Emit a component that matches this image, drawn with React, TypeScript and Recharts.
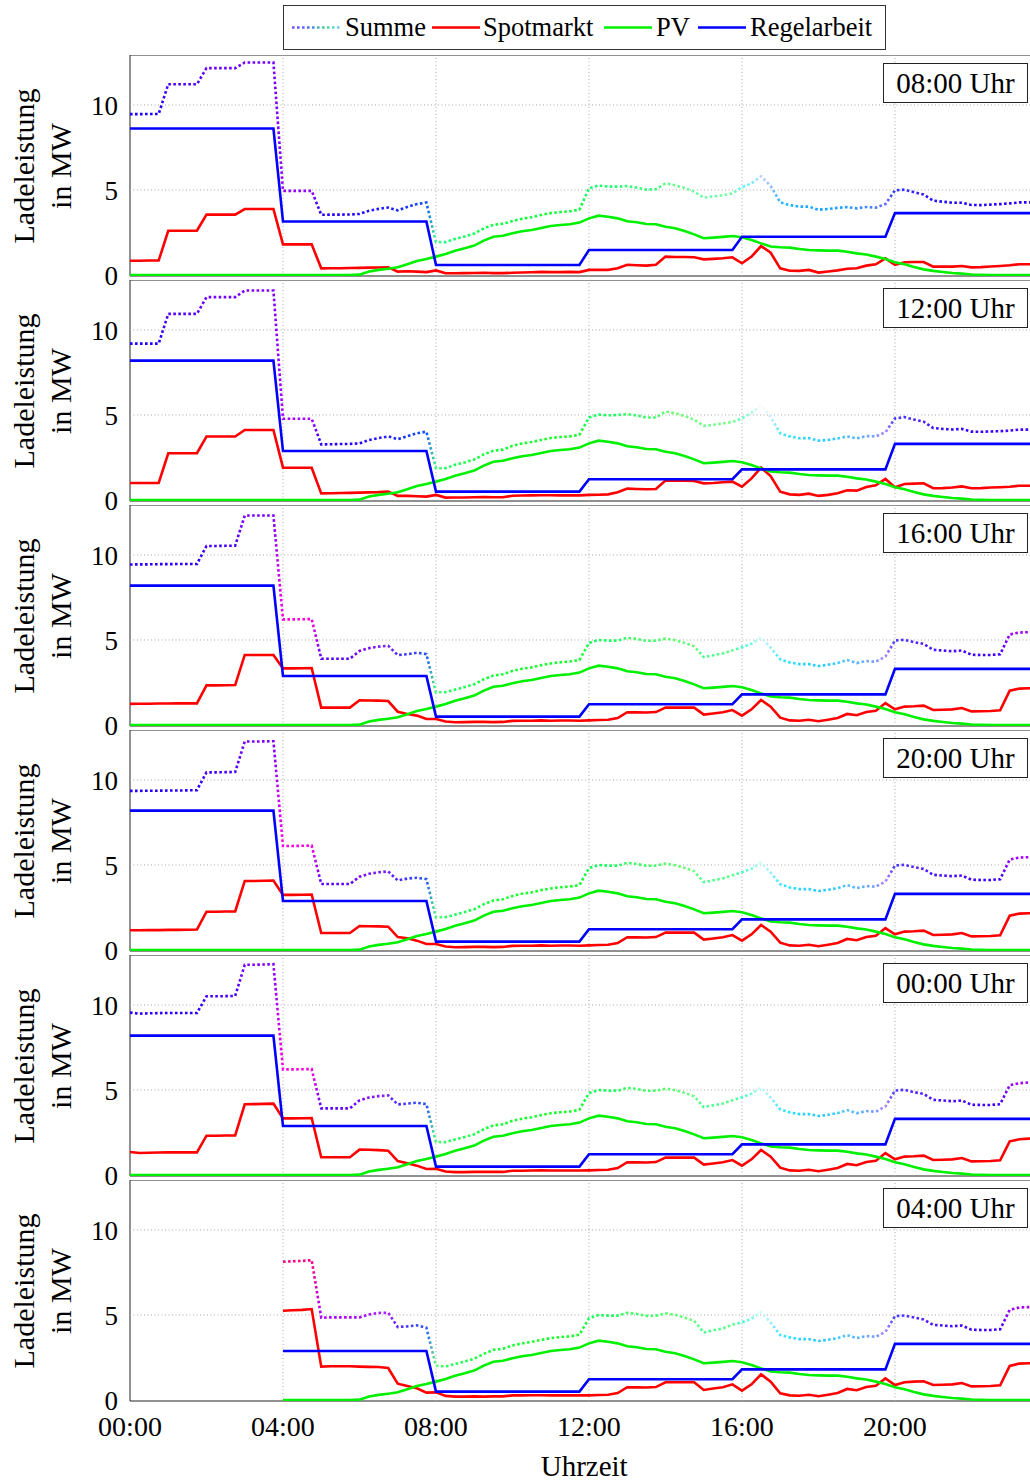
import React from 'react';
import { LineChart, Line, XAxis, YAxis, ReferenceLine, ReferenceArea, Label } from 'recharts';

const FONT = '"Liberation Serif", "Times New Roman", serif';

// Viertelstundenraster über den Tag (Stunden)
const quarterHours: number[] = Array.from({ length: 96 }, (_, i) => i / 4);

const xTicks = [0, 4, 8, 12, 16, 20];
const yTicks = [0, 5, 10];

const panelTitles = ['08:00 Uhr', '12:00 Uhr', '16:00 Uhr', '20:00 Uhr', '00:00 Uhr', '04:00 Uhr'];

// PV-Leistung in MW (für alle Zeitpunkte gleich)
const pv = [
  0, 0, 0, 0, 0, 0, 0, 0,
  0, 0, 0, 0, 0, 0, 0, 0,
  0, 0, 0, 0, 0, 0, 0, 0,
  0.02, 0.2, 0.3, 0.37, 0.45, 0.63, 0.82, 0.94,
  1.08, 1.24, 1.43, 1.57, 1.73, 2.02, 2.25, 2.31,
  2.45, 2.57, 2.65, 2.76, 2.88, 2.94, 2.98, 3.08,
  3.33, 3.49, 3.43, 3.33, 3.16, 3.1, 3.0, 2.98,
  2.84, 2.75, 2.59, 2.39, 2.16, 2.2, 2.24, 2.29,
  2.22, 2.06, 1.86, 1.67, 1.63, 1.61, 1.53, 1.47,
  1.45, 1.43, 1.43, 1.37, 1.27, 1.2, 1.08, 0.94,
  0.75, 0.63, 0.47, 0.33, 0.24, 0.18, 0.12, 0.08,
  0.03, 0.01, 0, 0, 0, 0, 0, 0,
];

// Spotmarkt-Leistung je Planungszeitpunkt (MW)
const spot0800 = [
  0.84, 0.84, 0.85, 0.85, 2.6, 2.6, 2.6, 2.6,
  3.55, 3.55, 3.55, 3.55, 3.88, 3.88, 3.88, 3.88,
  1.8, 1.8, 1.8, 1.8, 0.39, 0.4, 0.4, 0.41,
  0.42, 0.43, 0.44, 0.45, 0.2, 0.22, 0.2, 0.17,
  0.27, 0.1, 0.1, 0.11, 0.12, 0.13, 0.11, 0.11,
  0.13, 0.15, 0.16, 0.18, 0.17, 0.17, 0.18, 0.17,
  0.3, 0.3, 0.3, 0.4, 0.6, 0.57, 0.55, 0.6,
  1.08, 1.06, 1.06, 1.04, 0.92, 0.95, 0.98, 1.04,
  0.69, 1.08, 1.7, 1.31, 0.39, 0.25, 0.24, 0.3,
  0.14, 0.2, 0.27, 0.37, 0.4, 0.55, 0.63, 0.98,
  0.59, 0.75, 0.76, 0.76, 0.49, 0.49, 0.49, 0.53,
  0.45, 0.46, 0.5, 0.53, 0.57, 0.63, 0.63, 0.66,
];

const spot1200 = [
  1.0, 1.0, 1.0, 1.0, 2.75, 2.75, 2.75, 2.75,
  3.73, 3.73, 3.73, 3.73, 4.12, 4.12, 4.12, 4.12,
  1.9, 1.9, 1.9, 1.9, 0.39, 0.4, 0.41, 0.42,
  0.43, 0.45, 0.46, 0.49, 0.24, 0.24, 0.22, 0.2,
  0.3, 0.14, 0.15, 0.15, 0.16, 0.17, 0.16, 0.16,
  0.25, 0.26, 0.27, 0.28, 0.28, 0.27, 0.27, 0.27,
  0.3, 0.31, 0.33, 0.45, 0.67, 0.65, 0.63, 0.65,
  1.14, 1.13, 1.13, 1.12, 0.98, 1.0, 1.04, 1.08,
  0.78, 1.27, 1.9, 1.41, 0.49, 0.33, 0.3, 0.37,
  0.24, 0.3, 0.39, 0.57, 0.55, 0.76, 0.86, 1.24,
  0.75, 0.94, 0.96, 0.98, 0.69, 0.7, 0.73, 0.8,
  0.69, 0.7, 0.73, 0.75, 0.78, 0.84, 0.84, 0.85,
];

const spot1600 = [
  1.24, 1.25, 1.25, 1.26, 1.26, 1.27, 1.27, 1.27,
  2.33, 2.33, 2.34, 2.35, 4.12, 4.12, 4.12, 4.12,
  3.33, 3.33, 3.34, 3.35, 1.02, 1.02, 1.02, 1.02,
  1.45, 1.44, 1.43, 1.41, 0.78, 0.65, 0.55, 0.35,
  0.35, 0.2, 0.16, 0.17, 0.18, 0.18, 0.17, 0.18,
  0.24, 0.25, 0.25, 0.27, 0.25, 0.26, 0.26, 0.25,
  0.27, 0.29, 0.31, 0.41, 0.75, 0.74, 0.73, 0.76,
  1.02, 1.02, 1.02, 1.02, 0.61, 0.68, 0.75, 0.88,
  0.55, 0.92, 1.47, 1.08, 0.43, 0.27, 0.25, 0.31,
  0.22, 0.31, 0.41, 0.65, 0.57, 0.76, 0.84, 1.29,
  0.92, 1.08, 1.1, 1.14, 0.88, 0.9, 0.92, 1.0,
  0.8, 0.81, 0.82, 0.86, 2.02, 2.14, 2.16, 2.17,
];

const spot2000 = [
  1.16, 1.16, 1.17, 1.17, 1.18, 1.18, 1.19, 1.2,
  2.25, 2.25, 2.26, 2.27, 4.06, 4.06, 4.07, 4.08,
  3.24, 3.24, 3.25, 3.26, 1.0, 1.0, 1.0, 1.0,
  1.41, 1.4, 1.39, 1.37, 0.76, 0.69, 0.55, 0.35,
  0.35, 0.2, 0.16, 0.17, 0.18, 0.18, 0.17, 0.18,
  0.24, 0.25, 0.25, 0.27, 0.25, 0.26, 0.26, 0.25,
  0.27, 0.29, 0.31, 0.41, 0.75, 0.74, 0.73, 0.76,
  1.02, 1.02, 1.02, 1.02, 0.61, 0.68, 0.75, 0.88,
  0.55, 0.92, 1.47, 1.08, 0.43, 0.27, 0.25, 0.31,
  0.22, 0.31, 0.41, 0.65, 0.57, 0.76, 0.84, 1.29,
  0.92, 1.08, 1.1, 1.14, 0.88, 0.9, 0.92, 1.0,
  0.8, 0.81, 0.82, 0.86, 2.02, 2.14, 2.16, 2.17,
];

const spot0000 = [
  1.35, 1.29, 1.31, 1.32, 1.33, 1.33, 1.33, 1.33,
  2.31, 2.31, 2.32, 2.33, 4.16, 4.17, 4.18, 4.2,
  3.33, 3.33, 3.34, 3.35, 1.04, 1.04, 1.04, 1.04,
  1.49, 1.48, 1.46, 1.43, 0.82, 0.69, 0.55, 0.35,
  0.37, 0.2, 0.17, 0.17, 0.18, 0.18, 0.18, 0.18,
  0.25, 0.25, 0.26, 0.27, 0.26, 0.26, 0.26, 0.26,
  0.27, 0.29, 0.31, 0.41, 0.75, 0.74, 0.73, 0.76,
  1.02, 1.02, 1.02, 1.02, 0.61, 0.68, 0.75, 0.88,
  0.55, 0.92, 1.47, 1.08, 0.43, 0.27, 0.25, 0.31,
  0.22, 0.31, 0.41, 0.65, 0.57, 0.76, 0.84, 1.29,
  0.92, 1.08, 1.1, 1.14, 0.88, 0.9, 0.92, 1.0,
  0.8, 0.81, 0.82, 0.86, 1.98, 2.1, 2.14, 2.16,
];

const spot0400 = [
  null, null, null, null, null, null, null, null,
  null, null, null, null, null, null, null, null,
  5.25, 5.28, 5.3, 5.35, 1.96, 1.98, 1.98, 1.98,
  1.96, 1.95, 1.94, 1.88, 0.96, 0.82, 0.69, 0.43,
  0.45, 0.24, 0.2, 0.2, 0.21, 0.2, 0.21, 0.21,
  0.27, 0.27, 0.28, 0.28, 0.27, 0.27, 0.27, 0.27,
  0.27, 0.29, 0.31, 0.41, 0.75, 0.74, 0.73, 0.76,
  1.04, 1.04, 1.04, 1.04, 0.59, 0.68, 0.75, 0.92,
  0.55, 0.92, 1.51, 1.08, 0.39, 0.27, 0.25, 0.31,
  0.22, 0.31, 0.41, 0.65, 0.57, 0.76, 0.84, 1.27,
  0.88, 1.04, 1.08, 1.1, 0.88, 0.9, 0.92, 1.0,
  0.8, 0.81, 0.82, 0.86, 2.0, 2.14, 2.16, 2.17,
];

// Regelarbeit in 4-Stunden-Blöcken (00-04, 04-08, ..., 20-24 Uhr)
const regel0800 = [8.62, 3.15, 0.59, 1.47, 2.25, 3.64];
const regel1200 = [8.2, 2.88, 0.49, 1.22, 1.8, 3.3];
const regel1600 = [8.2, 2.88, 0.49, 1.22, 1.8, 3.3];
const regel2000 = [8.2, 2.88, 0.49, 1.22, 1.8, 3.3];
const regel0000 = [8.2, 2.88, 0.49, 1.22, 1.8, 3.3];
const regel0400 = [null, 2.88, 0.49, 1.22, 1.8, 3.3];

const spotSeries = [spot0800, spot1200, spot1600, spot2000, spot0000, spot0400];
const regelSeries = [regel0800, regel1200, regel1600, regel2000, regel0000, regel0400];

type Row = { t: number; spot: number | null; pv: number | null; regel: number | null; summe: number | null };

function buildRows(spot: (number | null)[], regel: (number | null)[]): Row[] {
  return quarterHours.map((t, i) => {
    const s = spot[i];
    const q = regel[Math.floor(i / 16)];
    if (s == null || q == null) return { t, spot: null, pv: null, regel: null, summe: null };
    const p = pv[i];
    return { t, spot: s, pv: p, regel: q, summe: s + p + q };
  });
}

// Farbe der Summe aus den Anteilen: rot = Spotmarkt, grün = PV, blau = Regelarbeit
function mixColor(s: number, p: number, q: number) {
  const m = Math.max(s, p, q) || 1;
  const c = (v: number) => Math.round((255 * v) / m);
  return `rgb(${c(s)},${c(p)},${c(q)})`;
}

const fmtHour = (h: number) => `${String(h).padStart(2, '0')}:00`;

const PLOT_H = 221;
const SPILL = 16; // Platz unter der Achse für die Null-Beschriftung
const Y_DOMAIN: [number, number] = [-0.06, 12.94];
const X_DOMAIN: [number, number] = [0, 23.75];

function Panel({ k }: { k: number }) {
  const rows = buildRows(spotSeries[k], regelSeries[k]);
  const first = rows.findIndex(r => r.summe != null);
  const last = rows.length - 1;
  const isLast = k === 5;
  const top = 55 + 225 * k;
  const gradId = `summe-grad-${k}`;

  return (
    <div style={{ position: 'absolute', left: 0, top }}>
      <LineChart
        width={1040}
        height={isLast ? PLOT_H + 80 : PLOT_H + SPILL}
        data={rows}
        margin={{ top: 0, right: 1.6, bottom: isLast ? 0 : SPILL, left: 0 }}
      >
        <defs>
          <linearGradient id={gradId} x1="0" y1="0" x2="1" y2="0">
            {rows.slice(first).map((r, j) => (
              <stop
                key={j}
                offset={j / (last - first)}
                stopColor={mixColor(r.spot as number, r.pv as number, r.regel as number)}
              />
            ))}
          </linearGradient>
        </defs>
        {isLast ? (
          <XAxis
            dataKey="t"
            type="number"
            domain={X_DOMAIN}
            ticks={xTicks}
            interval={0}
            tickFormatter={fmtHour}
            tick={{ fontSize: 28, fill: '#000', fontFamily: FONT }}
            tickLine={false}
            axisLine={false}
            tickSize={6}
            tickMargin={9}
            height={80}
            allowDataOverflow
          >
            <Label
              value="Uhrzeit"
              position="insideBottom"
              offset={5}
              fill="#000"
              style={{ fontSize: 29, fontFamily: FONT }}
            />
          </XAxis>
        ) : (
          <XAxis dataKey="t" type="number" domain={X_DOMAIN} hide allowDataOverflow />
        )}
        <YAxis
          type="number"
          domain={Y_DOMAIN}
          ticks={yTicks}
          interval={0}
          width={130}
          axisLine={false}
          tickLine={false}
          tickSize={6}
          tickMargin={6}
          tick={{ fontSize: 27, fill: '#000', fontFamily: FONT }}
          allowDataOverflow
        />
        {xTicks.slice(1).map(h => (
          <ReferenceLine key={`gx-${h}`} x={h} stroke="#a8a8a8" strokeWidth={1} strokeDasharray="1 2.5" />
        ))}
        {[5, 10].map(v => (
          <ReferenceLine key={`gy-${v}`} y={v} stroke="#a8a8a8" strokeWidth={1} strokeDasharray="1 2.5" />
        ))}
        <ReferenceArea
          x1={X_DOMAIN[0]}
          x2={X_DOMAIN[1]}
          y1={Y_DOMAIN[0]}
          y2={Y_DOMAIN[1]}
          fill="none"
          stroke="#222"
          strokeWidth={1}
          ifOverflow="visible"
        />
        <Line
          dataKey="summe"
          type="linear"
          stroke={`url(#${gradId})`}
          strokeWidth={2.6}
          strokeDasharray="2.6 2.4"
          dot={false}
          isAnimationActive={false}
        />
        <Line dataKey="spot" type="linear" stroke="#ff0000" strokeWidth={2.6} dot={false} isAnimationActive={false} />
        <Line dataKey="pv" type="linear" stroke="#00f000" strokeWidth={2.6} dot={false} isAnimationActive={false} />
        <Line dataKey="regel" type="linear" stroke="#0000ff" strokeWidth={2.6} dot={false} isAnimationActive={false} />
      </LineChart>

      {/* Zeitpunkt der Planung */}
      <div
        style={{
          position: 'absolute',
          left: 883,
          top: 8,
          width: 145,
          height: 40,
          boxSizing: 'border-box',
          border: '1px solid #222',
          background: '#fff',
          fontFamily: FONT,
          fontSize: 29,
          lineHeight: '38px',
          textAlign: 'center',
          whiteSpace: 'nowrap',
        }}
      >
        {panelTitles[k]}
      </div>

      {/* Achsenbeschriftung, gedreht */}
      <div
        style={{
          position: 'absolute',
          left: 41.5 - PLOT_H / 2,
          top: PLOT_H / 2 - 37,
          width: PLOT_H,
          height: 74,
          transform: 'rotate(-90deg)',
          transformOrigin: '50% 50%',
          fontFamily: FONT,
          fontSize: 30,
          lineHeight: '37px',
          textAlign: 'center',
          whiteSpace: 'nowrap',
        }}
      >
        <div>Ladeleistung</div>
        <div>in MW</div>
      </div>
    </div>
  );
}

const legendItems = [
  { label: 'Summe', color: 'url(#legend-summe)', dotted: true, lineX: 292, textX: 345 },
  { label: 'Spotmarkt', color: '#ff0000', dotted: false, lineX: 432, textX: 483 },
  { label: 'PV', color: '#00f000', dotted: false, lineX: 604, textX: 656 },
  { label: 'Regelarbeit', color: '#0000ff', dotted: false, lineX: 698, textX: 750 },
];

function ChartLegend() {
  const left = 283;
  const sx = legendItems[0].lineX - left;
  return (
    <div
      style={{
        position: 'absolute',
        left,
        top: 5,
        width: 603,
        height: 45,
        boxSizing: 'border-box',
        border: '1px solid #333',
        background: '#fff',
      }}
    >
      <svg width={603} height={45} style={{ position: 'absolute', left: -1, top: -1 }}>
        <defs>
          <linearGradient id="legend-summe" gradientUnits="userSpaceOnUse" x1={sx} y1={0} x2={sx + 48} y2={0}>
            <stop offset="0" stopColor="#7a4cff" />
            <stop offset="0.35" stopColor="#4f6cff" />
            <stop offset="0.7" stopColor="#3fe08a" />
            <stop offset="1" stopColor="#7fc8ff" />
          </linearGradient>
        </defs>
        {legendItems.map(it => (
          <line
            key={it.label}
            x1={it.lineX - left}
            x2={it.lineX - left + 48}
            y1={22.5}
            y2={22.5}
            stroke={it.color}
            strokeWidth={2.6}
            strokeDasharray={it.dotted ? '2.6 2.4' : undefined}
          />
        ))}
        {legendItems.map(it => (
          <text
            key={`t-${it.label}`}
            x={it.textX - left}
            y={31}
            fontFamily={FONT}
            fontSize={26.5}
            fill="#000"
          >
            {it.label}
          </text>
        ))}
      </svg>
    </div>
  );
}

export default function App() {
  return (
    <div
      style={{
        position: 'absolute',
        left: 0,
        top: 0,
        width: 1030,
        height: 1481,
        overflow: 'hidden',
        background: '#fff',
      }}
    >
      <ChartLegend />
      {panelTitles.map((_, k) => (
        <Panel key={k} k={k} />
      ))}
    </div>
  );
}
